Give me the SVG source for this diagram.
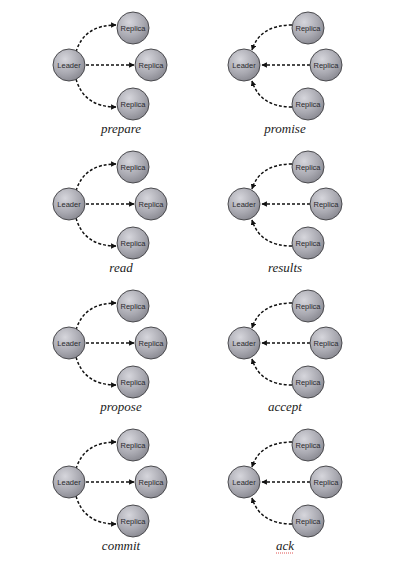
<svg xmlns="http://www.w3.org/2000/svg" width="400" height="569" viewBox="0 0 400 569">
<defs>
<radialGradient id="g" cx="0.38" cy="0.32" r="0.75">
<stop offset="0" stop-color="#d6d6dc"/>
<stop offset="0.6" stop-color="#a9a9b1"/>
<stop offset="1" stop-color="#85858d"/>
</radialGradient>
<marker id="ah" viewBox="0 0 10 10" refX="9" refY="5" markerWidth="5.5" markerHeight="5.5" orient="auto" markerUnits="userSpaceOnUse">
<path d="M0,0 L10,5 L0,10 z" fill="#111"/>
</marker>
<style>
.n circle{fill:url(#g);stroke:#4a4a4e;stroke-width:1}
.n text{font-family:"Liberation Sans","DejaVu Sans",sans-serif;font-size:7.5px;fill:#2a2a2e;text-anchor:middle;dominant-baseline:central}
.c path{fill:none;stroke:#111;stroke-width:1.5;stroke-dasharray:3 2;marker-end:url(#ah)}
.lbl{font-family:"Liberation Serif","DejaVu Serif",serif;font-style:italic;font-size:13px;fill:#222;text-anchor:middle}
</style>
</defs>
<rect width="400" height="569" fill="#fff"/>

<g id="connectors" class="c">
<path d="M76,52 Q84,25 116,25"/>
<path d="M86,65 L134,65"/>
<path d="M76,79 Q84,107 116,107"/>
<path d="M292,25 Q260,25 252,50"/>
<path d="M310,65 L262,65"/>
<path d="M292,107 Q260,107 252,81"/>
<path d="M76,191 Q84,164 116,164"/>
<path d="M86,204 L134,204"/>
<path d="M76,218 Q84,246 116,246"/>
<path d="M292,164 Q260,164 252,189"/>
<path d="M310,204 L262,204"/>
<path d="M292,246 Q260,246 252,220"/>
<path d="M76,330 Q84,303 116,303"/>
<path d="M86,343 L134,343"/>
<path d="M76,357 Q84,385 116,385"/>
<path d="M292,303 Q260,303 252,328"/>
<path d="M310,343 L262,343"/>
<path d="M292,385 Q260,385 252,359"/>
<path d="M76,469 Q84,442 116,442"/>
<path d="M86,482 L134,482"/>
<path d="M76,496 Q84,524 116,524"/>
<path d="M292,442 Q260,442 252,467"/>
<path d="M310,482 L262,482"/>
<path d="M292,524 Q260,524 252,498"/>
</g>

<g id="p1-leader" class="n"><circle cx="69" cy="65" r="16"/><text x="69" y="65">Leader</text></g>
<g id="p1-r1" class="n"><circle cx="133" cy="28" r="16"/><text x="133" y="28">Replica</text></g>
<g id="p1-r2" class="n"><circle cx="151" cy="65" r="16"/><text x="151" y="65">Replica</text></g>
<g id="p1-r3" class="n"><circle cx="133" cy="104" r="16"/><text x="133" y="104">Replica</text></g>
<text class="lbl" x="121" y="133">prepare</text>

<g id="p2-leader" class="n"><circle cx="244" cy="65" r="16"/><text x="244" y="65">Leader</text></g>
<g id="p2-r1" class="n"><circle cx="308" cy="28" r="16"/><text x="308" y="28">Replica</text></g>
<g id="p2-r2" class="n"><circle cx="326" cy="65" r="16"/><text x="326" y="65">Replica</text></g>
<g id="p2-r3" class="n"><circle cx="308" cy="104" r="16"/><text x="308" y="104">Replica</text></g>
<text class="lbl" x="285" y="133">promise</text>

<g id="p3-leader" class="n"><circle cx="69" cy="204" r="16"/><text x="69" y="204">Leader</text></g>
<g id="p3-r1" class="n"><circle cx="133" cy="167" r="16"/><text x="133" y="167">Replica</text></g>
<g id="p3-r2" class="n"><circle cx="151" cy="204" r="16"/><text x="151" y="204">Replica</text></g>
<g id="p3-r3" class="n"><circle cx="133" cy="243" r="16"/><text x="133" y="243">Replica</text></g>
<text class="lbl" x="121" y="272">read</text>

<g id="p4-leader" class="n"><circle cx="244" cy="204" r="16"/><text x="244" y="204">Leader</text></g>
<g id="p4-r1" class="n"><circle cx="308" cy="167" r="16"/><text x="308" y="167">Replica</text></g>
<g id="p4-r2" class="n"><circle cx="326" cy="204" r="16"/><text x="326" y="204">Replica</text></g>
<g id="p4-r3" class="n"><circle cx="308" cy="243" r="16"/><text x="308" y="243">Replica</text></g>
<text class="lbl" x="285" y="272">results</text>

<g id="p5-leader" class="n"><circle cx="69" cy="343" r="16"/><text x="69" y="343">Leader</text></g>
<g id="p5-r1" class="n"><circle cx="133" cy="306" r="16"/><text x="133" y="306">Replica</text></g>
<g id="p5-r2" class="n"><circle cx="151" cy="343" r="16"/><text x="151" y="343">Replica</text></g>
<g id="p5-r3" class="n"><circle cx="133" cy="382" r="16"/><text x="133" y="382">Replica</text></g>
<text class="lbl" x="121" y="411">propose</text>

<g id="p6-leader" class="n"><circle cx="244" cy="343" r="16"/><text x="244" y="343">Leader</text></g>
<g id="p6-r1" class="n"><circle cx="308" cy="306" r="16"/><text x="308" y="306">Replica</text></g>
<g id="p6-r2" class="n"><circle cx="326" cy="343" r="16"/><text x="326" y="343">Replica</text></g>
<g id="p6-r3" class="n"><circle cx="308" cy="382" r="16"/><text x="308" y="382">Replica</text></g>
<text class="lbl" x="285" y="411">accept</text>

<g id="p7-leader" class="n"><circle cx="69" cy="482" r="16"/><text x="69" y="482">Leader</text></g>
<g id="p7-r1" class="n"><circle cx="133" cy="445" r="16"/><text x="133" y="445">Replica</text></g>
<g id="p7-r2" class="n"><circle cx="151" cy="482" r="16"/><text x="151" y="482">Replica</text></g>
<g id="p7-r3" class="n"><circle cx="133" cy="521" r="16"/><text x="133" y="521">Replica</text></g>
<text class="lbl" x="121" y="550">commit</text>

<g id="p8-leader" class="n"><circle cx="244" cy="482" r="16"/><text x="244" y="482">Leader</text></g>
<g id="p8-r1" class="n"><circle cx="308" cy="445" r="16"/><text x="308" y="445">Replica</text></g>
<g id="p8-r2" class="n"><circle cx="326" cy="482" r="16"/><text x="326" y="482">Replica</text></g>
<g id="p8-r3" class="n"><circle cx="308" cy="521" r="16"/><text x="308" y="521">Replica</text></g>
<text class="lbl" x="285" y="550">ack</text>
<path d="M276,553 L294,553" stroke="#e05050" stroke-width="1" stroke-dasharray="1 1" fill="none"/>
</svg>
